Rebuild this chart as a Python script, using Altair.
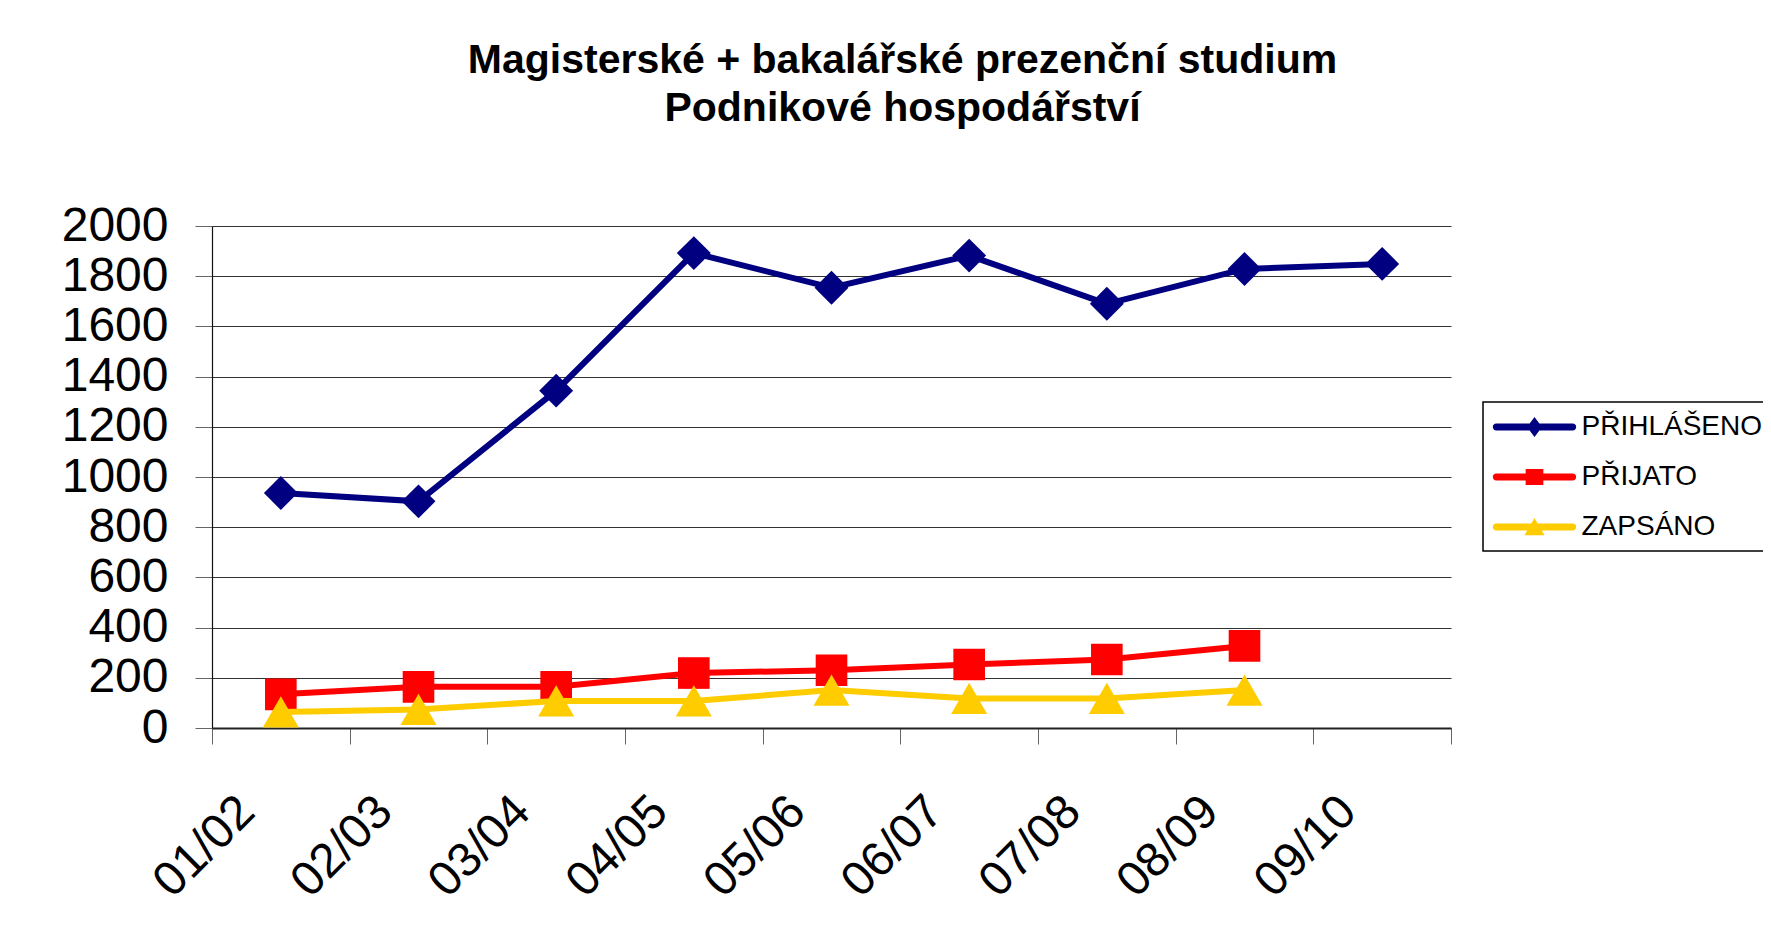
import altair as alt
import pandas as pd

years = ["01/02", "02/03", "03/04", "04/05", "05/06", "06/07", "07/08", "08/09", "09/10"]
prihlaseno = [936, 903, 1344, 1892, 1754, 1882, 1690, 1829, 1849]
prijato = [134, 164, 164, 219, 230, 253, 273, 327, None]
zapsano = [64, 74, 108, 108, 151, 118, 118, 151, None]

series_names = ["PŘIHLÁŠENO", "PŘIJATO", "ZAPSÁNO"]
series_values = [prihlaseno, prijato, zapsano]
series_colors = ["#000080", "#FF0000", "#FFCC00"]
marker_shapes = ["diamond", "square", "triangle-up"]
marker_sizes = [1150, 1000, 1300]

title_lines = ["Magisterské + bakalářské prezenční studium", "Podnikové hospodářství"]
y_ticks = [0, 200, 400, 600, 800, 1000, 1200, 1400, 1600, 1800, 2000]

# legend glyphs: line segment with the series marker in the middle
# (nominal symbol box is 30px => 1 unit = 15px; the line reaches +-2.77 units)
bar = "M-2.55,-0.23L2.55,-0.23A0.23,0.23 0 0 1 2.55,0.23L-2.55,0.23A0.23,0.23 0 0 1 -2.55,-0.23Z"
legend_paths = [
    bar + " M0,-0.67L0.5,0L0,0.67L-0.5,0Z",
    bar + " M-0.59,-0.53L0.59,-0.53L0.59,0.53L-0.59,0.53Z",
    bar + " M0,-0.6L0.67,0.55L-0.67,0.55Z",
]

rows = []
for name, vals in zip(series_names, series_values):
    for yr, v in zip(years, vals):
        if v is not None:
            rows.append({"rok": yr, "pocet": v, "rada": name})
df = pd.DataFrame(rows)

FONT = "Liberation Sans"

x_enc = alt.X(
    "rok:N",
    sort=years,
    bandPosition=0.5,
    scale=alt.Scale(type="band", domain=years, paddingInner=0, paddingOuter=0),
    axis=alt.Axis(
        tickBand="extent", labelAngle=315, labelAlign="right", labelBaseline="middle",
        labelFont=FONT, labelFontSize=48, labelColor="black", labelPadding=60,
        labelOffset=-34,
        tickSize=16, tickColor="#666666", tickWidth=1,
        domainColor="#222222", domainWidth=2, grid=False, labelOverlap=False,
    ),
    title=None,
)
y_enc = alt.Y(
    "pocet:Q",
    scale=alt.Scale(domain=[0, 2000], nice=False),
    axis=alt.Axis(
        values=y_ticks, format="d", grid=True, gridColor="#333333", gridWidth=1.2,
        domainColor="#111111", domainWidth=1.2, tickSize=17, tickColor="#666666",
        labelFont=FONT, labelFontSize=48, labelColor="black", labelPadding=27,
        labelOverlap=False, labelFlush=False,
    ),
    title=None,
)

layers = []
for name, col, shp, sz in zip(series_names, series_colors, marker_shapes, marker_sizes):
    base = alt.Chart(df).transform_filter(alt.datum.rada == name)
    layers.append(base.mark_line(color=col, strokeWidth=6).encode(x=x_enc, y=y_enc))
    layers.append(
        base.mark_point(filled=True, shape=shp, size=sz, color=col, opacity=1).encode(x=x_enc, y=y_enc)
    )

leg = alt.Legend(
    title=None, orient="none", legendX=1271, legendY=176,
    symbolSize=900, symbolStrokeWidth=0, symbolOpacity=1, symbolOffset=26.5,
    labelFont=FONT, labelFontSize=28, labelColor="black", labelOffset=32, labelLimit=400,
    padding=10, rowPadding=21, strokeColor="black", fillColor="white",
    cornerRadius=0,
)
legend_df = pd.DataFrame({"rok": years[:3], "pocet": [None, None, None], "rada": series_names})
legend_layer = alt.Chart(legend_df).mark_point(filled=True).encode(
    x=x_enc,
    y=y_enc,
    color=alt.Color("rada:N", scale=alt.Scale(domain=series_names, range=series_colors), legend=leg),
    shape=alt.Shape("rada:N", scale=alt.Scale(domain=series_names, range=legend_paths), legend=leg),
)
layers.append(legend_layer)

chart = (
    alt.layer(*layers)
    .properties(
        width=1239,
        height=502,
        padding={"left": 204, "top": 218, "right": 312, "bottom": 200},
        autosize=alt.AutoSizeParams(type="none"),
        title=alt.Title(
            text=title_lines, font=FONT, fontSize=41, fontWeight="bold", color="black",
            lineHeight=48, anchor="middle", frame="group", dx=71, offset=72,
        ),
        background="white",
    )
    .configure_view(strokeWidth=0)
    .configure_legend(strokeWidth=1.5)
)

chart.save("out.html", embed_options={"renderer": "svg", "actions": False})
